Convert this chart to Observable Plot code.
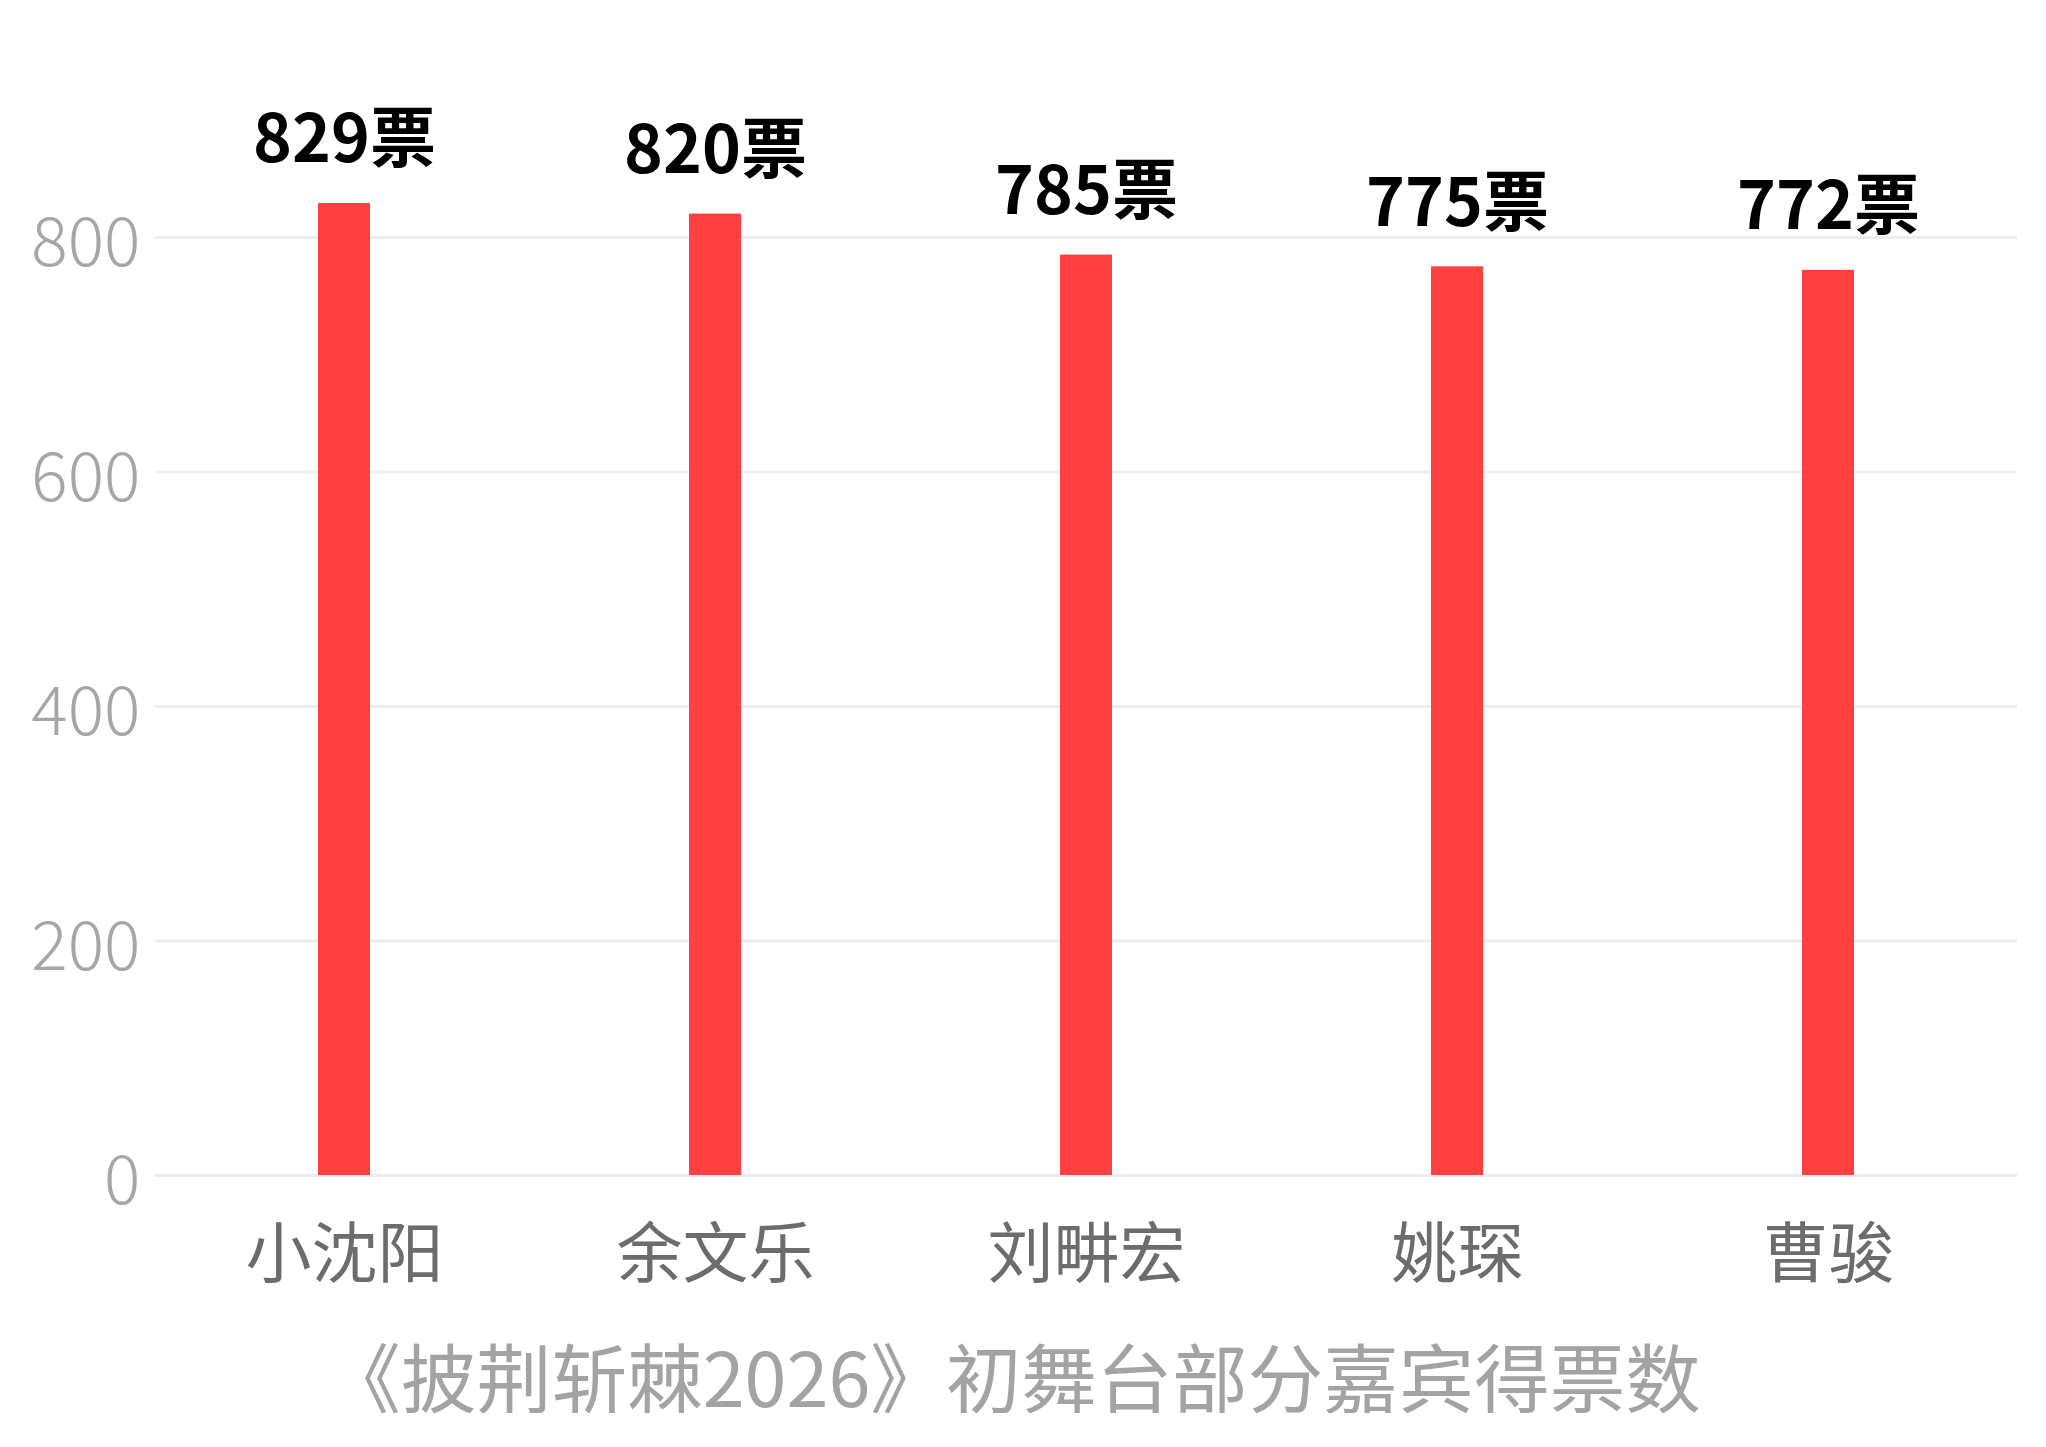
<!DOCTYPE html>
<html>
<head>
<meta charset="utf-8">
<script src="https://cdn.jsdelivr.net/npm/d3@7"></script>
<script src="https://cdn.jsdelivr.net/npm/@observablehq/plot@0.6"></script>
<style>
  html, body { margin: 0; padding: 0; background: #ffffff; }
  body { width: 2046px; font-family: "Noto Sans CJK SC", "Noto Sans", sans-serif; }
  #chart svg { display: block; }
  #caption {
    margin-top: 37px;
    width: 2026px;
    padding-right: 20px;
    text-align: center;
    font-size: 75.5px;
    line-height: 1;
    color: #a3a3a6;
    font-family: "Noto Sans CJK SC", sans-serif;
  }
</style>
</head>
<body>
<div id="chart"></div>
<div id="caption"></div>
<script>
const names = ["小沈阳", "余文乐", "刘畊宏", "姚琛", "曹骏"];
const votes = [829, 820, 785, 775, 772];
const yTicks = [0, 200, 400, 600, 800];
const captionText = "《披荆斩棘2026》初舞台部分嘉宾得票数";

const data = names.map((name, i) => ({name, votes: votes[i], label: votes[i] + "票"}));

const chart = Plot.plot({
  width: 2046,
  height: 1300,
  marginLeft: 155,
  marginRight: 29,
  marginTop: 237,
  marginBottom: 125,
  style: {fontFamily: "Noto Sans CJK SC, sans-serif", background: "#ffffff"},
  x: {domain: names, paddingInner: 0.86, paddingOuter: 0.435, label: null},
  y: {domain: [0, 800], label: null},
  marks: [
    Plot.gridY(yTicks, {stroke: "#ededed", strokeOpacity: 1, strokeWidth: 3}),
    Plot.axisY(yTicks, {
      tickSize: 0, tickPadding: 15, fontSize: 68, fontWeight: 300, color: "#a6a6a8",
      dy: 7, label: null
    }),
    Plot.axisX({
      tickSize: 0, tickPadding: 55, fontSize: 66, color: "#6c6c6e", label: null
    }),
    Plot.barY(data, {x: "name", y: "votes", fill: "#fe4140"}),
    Plot.text(data, {
      x: "name", y: "votes", text: "label",
      lineAnchor: "bottom", dy: -41,
      fontSize: 66, fontWeight: 700, fill: "#000000"
    })
  ]
});
document.getElementById("chart").appendChild(chart);
document.getElementById("caption").textContent = captionText;
</script>
</body>
</html>
